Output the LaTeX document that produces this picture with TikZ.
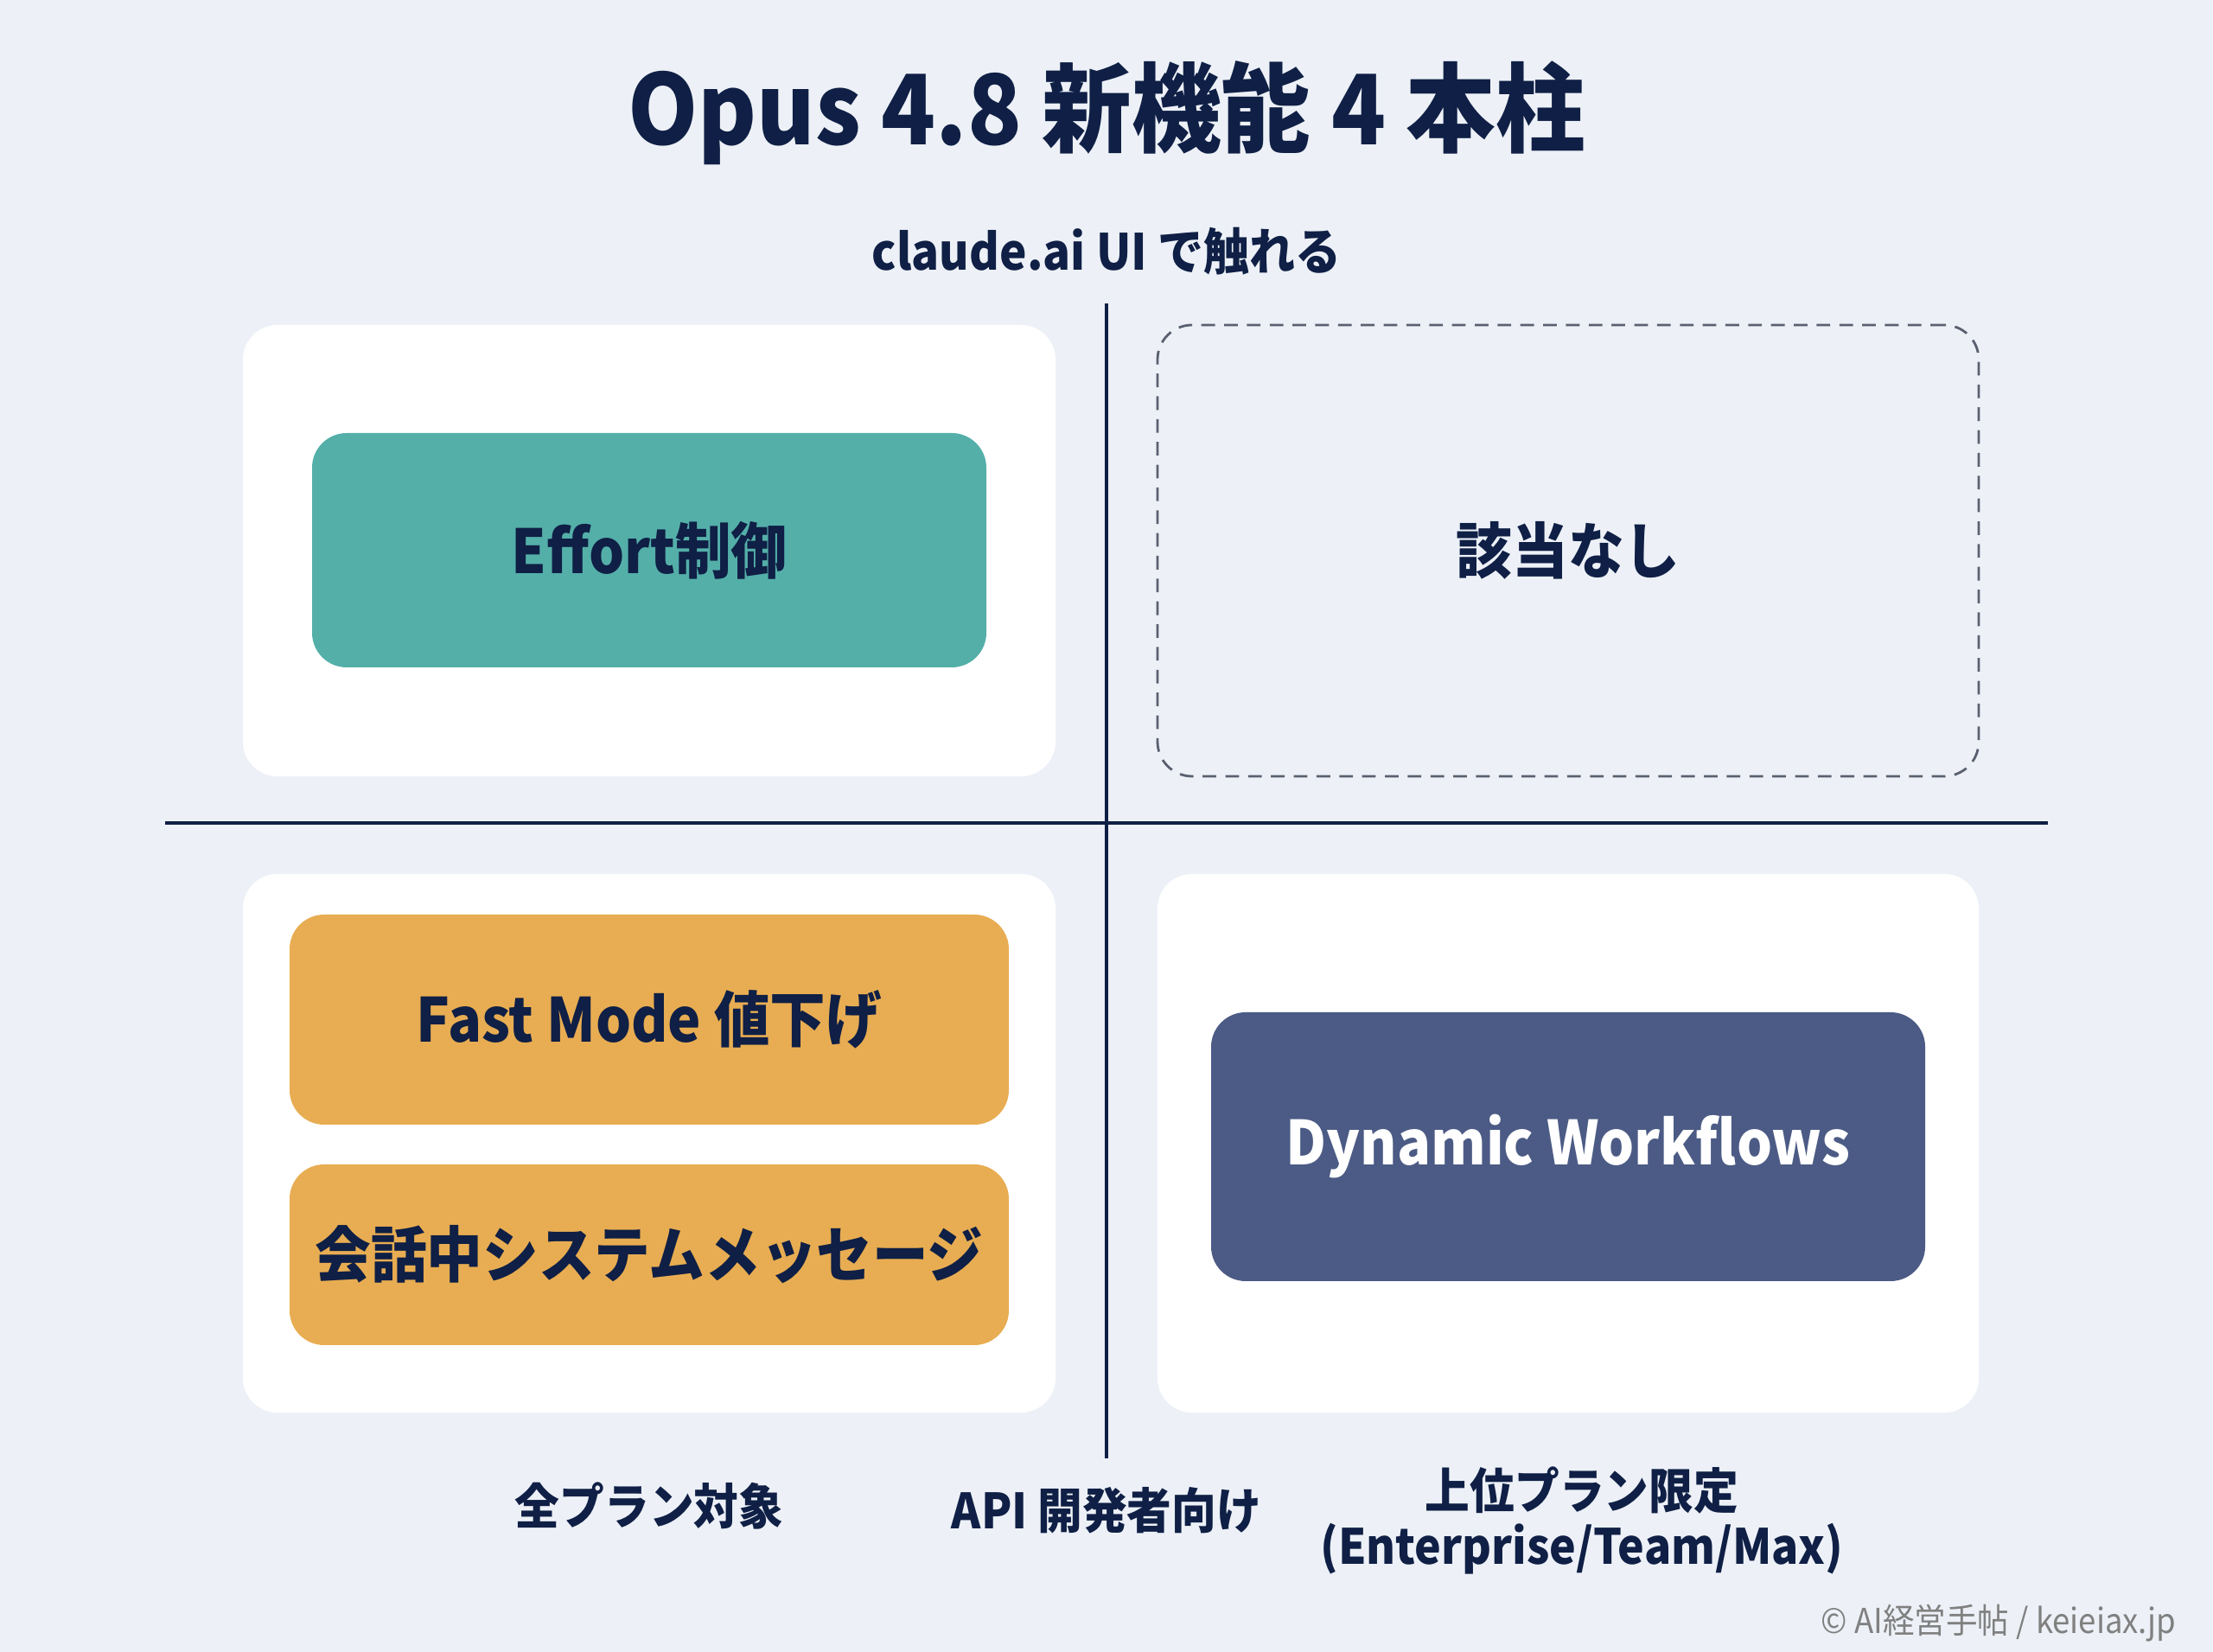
\documentclass[tikz,border=0pt]{standalone}
\usepackage{fontspec}
\setmainfont{Noto Sans CJK JP}[FakeStretch=0.92]
\usetikzlibrary{positioning}

\definecolor{bgcol}{HTML}{EDF1F7}
\definecolor{inkcol}{HTML}{0F1F45}
\definecolor{tealcol}{HTML}{54AFA9}
\definecolor{orangecol}{HTML}{E8AD52}
\definecolor{navycol}{HTML}{4C5B85}
\definecolor{dashcol}{HTML}{5A6070}

\tikzset{
    panel/.style={fill=white, rounded corners=0.4cm, inner sep=0pt},
    emptypanel/.style={draw=dashcol, line width=0.8pt, dash pattern=on 4.5pt off 3pt,
                       rounded corners=0.4cm, inner sep=0pt, text=inkcol,
                       font=\bfseries\fontsize{20}{24}\selectfont},
    featbox/.style={rounded corners=0.4cm, inner sep=0pt, text=inkcol,
                    font=\bfseries\fontsize{20}{24}\selectfont},
    axislabel/.style={text=inkcol, font=\bfseries\fontsize{16}{18.2}\selectfont, align=center},
    axisline/.style={draw=inkcol, line width=1.3pt}
}

\begin{document}
\begin{tikzpicture}

    \fill[bgcol] (0,0) rectangle (25.6,19.11);
    \useasboundingbox (0,0) rectangle (25.6,19.11);

    % Title
    \node[text=inkcol, font=\bfseries\fontsize{32}{38}\selectfont] (title) at (12.80,17.80)
        {Opus 4.8 新機能 4 本柱};
    \node[axislabel, font=\bfseries\fontsize{16.4}{21}\selectfont] (uilabel) at (12.80,16.20)
        {claude.ai UI で触れる};

    % Quadrant panels
    \node[panel, minimum width=9.40cm, minimum height=5.22cm] (tlpanel) at (7.51,12.74) {};
    \node[emptypanel, minimum width=9.50cm, minimum height=5.22cm] (trpanel) at (18.14,12.74) {該当なし};
    \node[panel, minimum width=9.40cm, minimum height=6.23cm] (blpanel) at (7.51,5.885) {};
    \node[panel, minimum width=9.50cm, minimum height=6.23cm] (brpanel) at (18.14,5.885) {};

    % Axes
    \coordinate (vtop) at (12.80,15.60);
    \coordinate (vbot) at (12.80,2.24);
    \coordinate (hleft) at (1.91,9.59);
    \coordinate (hright) at (23.69,9.59);
    \draw[axisline] (vtop) -- (vbot);
    \draw[axisline] (hleft) -- (hright);

    % Feature boxes
    \node[featbox, fill=tealcol, minimum width=7.80cm, minimum height=2.71cm] (effort) at (7.51,12.745)
        {Effort制御};
    \node[featbox, fill=orangecol, minimum width=8.32cm, minimum height=2.43cm] (fastmode) at (7.51,7.315)
        {Fast Mode 値下げ};
    \node[featbox, fill=orangecol, minimum width=8.32cm, minimum height=2.09cm] (sysmsg) at (7.51,4.595)
        {会話中システムメッセージ};
    \node[featbox, fill=navycol, text=white, minimum width=8.26cm, minimum height=3.11cm] (dynwork) at (18.14,5.845)
        {Dynamic Workflows};

    % Labels
    \node[axislabel] (allplans) at (7.51,1.69) {全プラン対象};
    \node[axislabel] (apidev) at (12.80,1.64) {API 開発者向け};
    \node[axislabel] (upper) at (18.30,1.52) {上位プラン限定\\(Enterprise/Team/Max)};
    \node[anchor=east, text=black!50, font=\fontsize{11.3}{14}\selectfont] (credit) at (25.30,0.33)
        {© AI経営手帖 / keieiax.jp};

\end{tikzpicture}
\end{document}
